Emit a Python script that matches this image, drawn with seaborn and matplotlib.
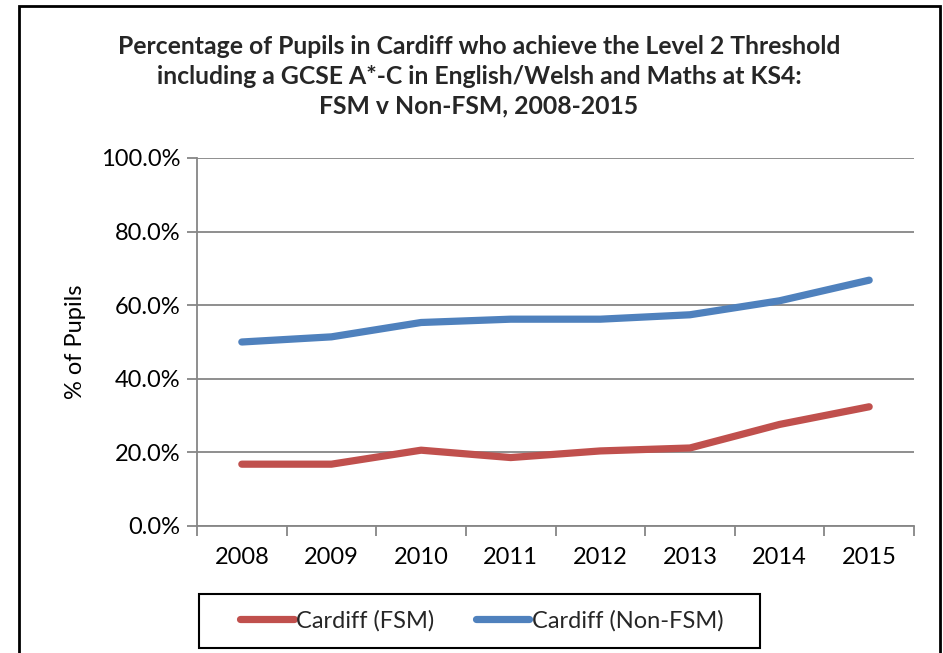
import numpy as np
import pandas as pd
import matplotlib
matplotlib.use("Agg")
import matplotlib.pyplot as plt
import seaborn as sns
from matplotlib.patches import Rectangle
from matplotlib.ticker import FixedLocator

years = ["2008", "2009", "2010", "2011", "2012", "2013", "2014", "2015"]
fsm = [16.8, 16.8, 20.6, 18.6, 20.4, 21.2, 27.6, 32.4]
non_fsm = [50.0, 51.4, 55.3, 56.2, 56.2, 57.4, 61.2, 66.8]
series_names = ["Cardiff (FSM)", "Cardiff (Non-FSM)"]
colors = ["#C0504D", "#4F81BD"]
y_ticks = [0, 20, 40, 60, 80, 100]
title = ("Percentage of Pupils in Cardiff who achieve the Level 2 Threshold\n"
         "including a GCSE A*-C in English/Welsh and Maths at KS4:\n"
         "FSM v Non-FSM, 2008-2015")

sns.set_theme(style="white")
plt.rcParams["font.family"] = ["Lato", "DejaVu Sans"]

FS = 17

df = pd.DataFrame({
    "pos": list(range(len(years))) * 2,
    "value": fsm + non_fsm,
    "series": [series_names[0]] * len(years) + [series_names[1]] * len(years),
})

fig = plt.figure(figsize=(9.43, 6.53), dpi=100)
ax = fig.add_axes([197 / 943, 1 - 526 / 653, (914 - 197) / 943, (526 - 158) / 653])

sns.lineplot(data=df, x="pos", y="value", hue="series", hue_order=series_names,
             palette=colors, linewidth=5.2, ax=ax, legend=False,
             solid_capstyle="round")

ax.set_xlim(-0.5, len(years) - 0.5)
ax.set_ylim(0, 100)
ax.set_yticks(y_ticks)
ax.set_yticklabels([f"{v:.1f}%" for v in y_ticks], fontsize=FS, color="#000000")
ax.set_xticks(range(len(years)))
ax.set_xticklabels(years, fontsize=FS, color="#000000")
ax.xaxis.set_minor_locator(FixedLocator(np.arange(-0.5, len(years), 1.0)))
ax.tick_params(axis="x", which="major", length=0, pad=15)
ax.tick_params(axis="x", which="minor", length=7, width=1.3, color="#868686", direction="out", bottom=True)
ax.tick_params(axis="y", which="major", length=7, width=1.3, color="#868686", direction="out", left=True, pad=5)
ax.yaxis.grid(True, color="#868686", linewidth=1.3)
ax.set_axisbelow(True)
for s in ["top", "right"]:
    ax.spines[s].set_visible(False)
for s in ["left", "bottom"]:
    ax.spines[s].set_color("#868686")
    ax.spines[s].set_linewidth(1.3)
ax.set_xlabel("")
ax.set_ylabel("% of Pupils", fontsize=FS, color="#000000", labelpad=11)

fig.text(479 / 943, 1 - 76 / 653, title, ha="center", va="center", fontsize=17.8,
         fontweight="bold", linespacing=1.35)

# legend box
fig.patches.append(Rectangle((199 / 943, 1 - 648 / 653), 561 / 943, 54 / 653,
                             transform=fig.transFigure, fill=False,
                             edgecolor="#000000", linewidth=1.5))
handles = [plt.Line2D([], [], color=c, linewidth=5.2, solid_capstyle="round") for c in colors]
leg = fig.legend(handles, series_names, loc="center",
                 bbox_to_anchor=(482 / 943, 1 - 621 / 653),
                 ncol=2, fontsize=FS, handlelength=2.25,
                 handletextpad=0.12, borderaxespad=0, frameon=False,
                 columnspacing=1.75)

fig.patches.append(Rectangle((19 / 943, -0.02), (940 - 19) / 943, 1 - 6 / 653 + 0.02,
                             transform=fig.transFigure, fill=False,
                             edgecolor="#000000", linewidth=2))

fig.savefig("out.png", dpi=100)
